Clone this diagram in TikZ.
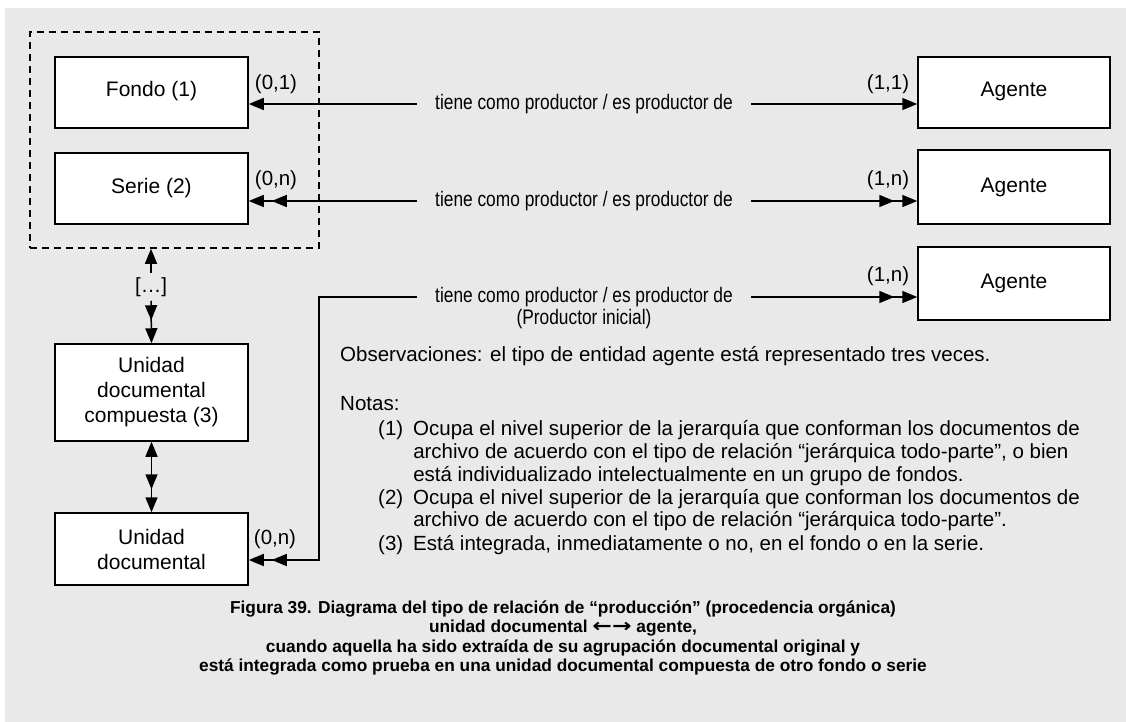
\documentclass[tikz,border=0pt]{standalone}
\usepackage{fontspec}
\setmainfont{Liberation Sans}
\newfontfamily\symfont{DejaVu Sans}
\usetikzlibrary{arrows.meta}
\definecolor{bgc}{HTML}{E9E9E9}
\tikzset{
  one/.style={-{Triangle[length=15pt,width=12pt]}},
  many/.style={-{Triangle[length=15pt,width=12pt,sep=8pt]Triangle[length=15pt,width=12pt]}},
  upmany/.style={{Triangle[length=15pt,width=12pt]}-{Triangle[length=15pt,width=12pt,sep=8pt]Triangle[length=15pt,width=12pt]}},
  box/.style={draw, fill=white, line width=1.5pt, minimum width=193pt, inner sep=0pt,
    font=\fontsize{21}{25}\selectfont, align=center},
  conn/.style={line width=1.5pt},
  rel/.style={inner xsep=18pt, inner ysep=2pt, font=\fontsize{21}{23}\selectfont},
  card/.style={inner sep=0pt, font=\fontsize{20.5}{23}\selectfont},
  txt/.style={inner sep=0pt, anchor=base west, font=\fontsize{20.5}{22.8}\selectfont, align=left},
  captxt/.style={inner sep=0pt, font=\fontsize{17.3}{19.4}\selectfont\bfseries, align=center},
}
\newcommand{\narrow}[1]{\scalebox{0.825}[1]{#1}}
\begin{document}
\begin{tikzpicture}[x=1pt,y=-1pt]
  \useasboundingbox (0,0) rectangle (1126,722);
  \fill[bgc] (5,8) rectangle (1126,722);

  % group dashed box
  \node[draw, dash pattern=on 7pt off 5pt, line width=1.5pt, minimum width=289pt,
        minimum height=216pt, inner sep=0pt] (grp) at (174.5,140) {};

  % left boxes
  \node[box, minimum height=71pt] (fondo) at (151.5,92.5) {\raisebox{7pt}{Fondo (1)}};
  \node[box, minimum height=71pt] (serie) at (151.5,188.5) {\raisebox{6pt}{Serie (2)}};
  \node[box, minimum height=97pt] (udc) at (151.5,392.5) {Unidad\\documental\\compuesta (3)};
  \node[box, minimum height=72pt] (ud) at (151.5,549) {\raisebox{3.5pt}{\parbox{180pt}{\centering Unidad\\documental}}};

  % agents
  \node[box, minimum width=192pt, minimum height=71pt] (ag1) at (1014,92.5) {\raisebox{7pt}{Agente}};
  \node[box, minimum width=192pt, minimum height=74pt] (ag2) at (1014,187) {\raisebox{4pt}{Agente}};
  \node[box, minimum width=192pt, minimum height=73pt] (ag3) at (1014,283.5) {\raisebox{4pt}{Agente}};

  % relation labels
  \node[rel] (r1) at (584,104) {\narrow{tiene como productor / es productor de}};
  \node[rel] (r2) at (584,201) {\narrow{tiene como productor / es productor de}};
  \node[rel] (r3) at (584,297) {\narrow{tiene como productor / es productor de}};
  \node[rel, inner ysep=0pt] (r3b) at (584,319) {\narrow{(Productor inicial)}};

  % connectors
  \draw[conn, one] (r1.west) -- (r1.west -| fondo.east);
  \draw[conn, one] (r1.east) -- (r1.east -| ag1.west);
  \draw[conn, many] (r2.west) -- (r2.west -| serie.east);
  \draw[conn, many] (r2.east) -- (r2.east -| ag2.west);
  \coordinate (c3) at (319,560);
  \draw[conn, many] (r3.west) -| (c3) -- (c3 -| ud.east);
  \draw[conn, many] (r3.east) -- (r3.east -| ag3.west);

  % cardinalities
  \node[card] (k1) at (276,84) {(0,1)};
  \node[card] (k2) at (276,180) {(0,n)};
  \node[card] (k3) at (275,539) {(0,n)};
  \node[card] (k4) at (888,84) {(1,1)};
  \node[card] (k5) at (888,180) {(1,n)};
  \node[card] (k6) at (888,276) {(1,n)};

  % vertical links
  \node[card, inner ysep=4pt] (dots) at (151,287) {[\ldots]};
  \draw[conn, one] (dots.north) -- (grp.south -| dots.north);
  \draw[conn, many] (dots.south) -- (udc.north);
  \draw[conn, upmany] (udc.south) -- (ud.north);

  % notes
  \node[txt] (obs) at (340,361.5) {Observaciones: el tipo de entidad agente está representado tres veces.};
  \node[txt] (notas) at (340,410.5) {Notas:};
  \node[txt] (n1) at (378,435.5) {(1)\hspace{10pt}\parbox[t]{720pt}{Ocupa el nivel superior de la jerarquía que conforman los documentos de\\archivo de acuerdo con el tipo de relación “jerárquica todo-parte”, o bien\\está individualizado intelectualmente en un grupo de fondos.}};
  \node[txt] (n2) at (378,504) {(2)\hspace{10pt}\parbox[t]{720pt}{Ocupa el nivel superior de la jerarquía que conforman los documentos de\\archivo de acuerdo con el tipo de relación “jerárquica todo-parte”.}};
  \node[txt] (n3) at (378,550) {(3)\hspace{10pt}Está integrada, inmediatamente o no, en el fondo o en la serie.};

  % caption
  \node[captxt] (caption) at (563,638) {Figura 39. Diagrama del tipo de relación de “producción” (procedencia orgánica)\\
    unidad documental {\symfont\bfseries\scalebox{1.35}[1.1]{←}\scalebox{1.35}[1.1]{→}} agente,\\
    cuando aquella ha sido extraída de su agrupación documental original y\\
    está integrada como prueba en una unidad documental compuesta de otro fondo o serie};
\end{tikzpicture}
\end{document}
